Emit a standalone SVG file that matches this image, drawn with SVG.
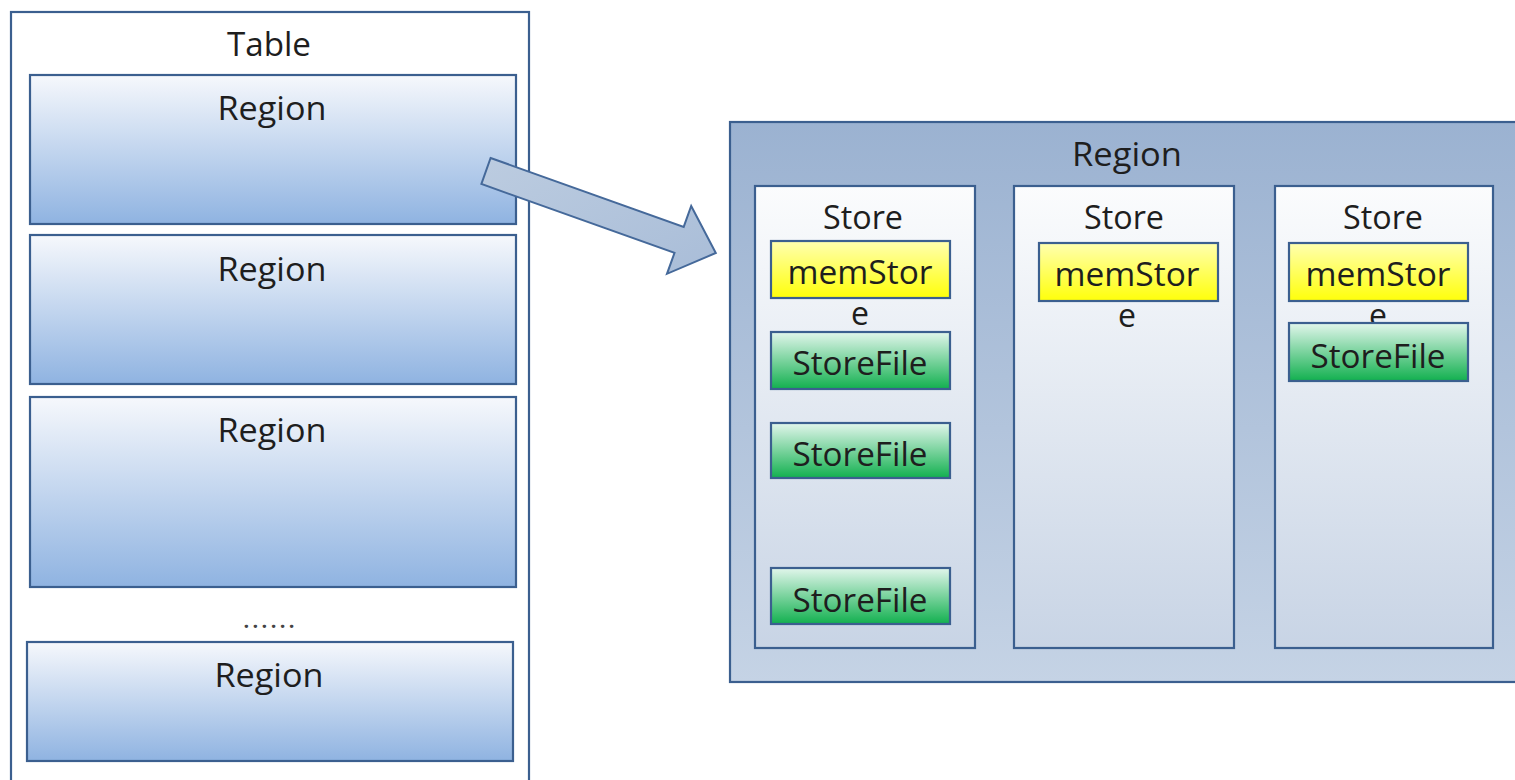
<svg xmlns="http://www.w3.org/2000/svg" width="1515" height="780" viewBox="0 0 1515 780">
  <defs>
    <linearGradient id="gRegionL" x1="0" y1="0" x2="0" y2="1">
      <stop offset="0" stop-color="#f6f8fc"/>
      <stop offset="1" stop-color="#8fb3e1"/>
    </linearGradient>
    <linearGradient id="gRegionR" x1="0" y1="0" x2="0" y2="1">
      <stop offset="0" stop-color="#9bb2d1"/>
      <stop offset="1" stop-color="#c5d3e5"/>
    </linearGradient>
    <linearGradient id="gStore" x1="0" y1="0" x2="0" y2="1">
      <stop offset="0" stop-color="#fbfcfd"/>
      <stop offset="1" stop-color="#c8d4e5"/>
    </linearGradient>
    <linearGradient id="gMem" x1="0" y1="0" x2="0" y2="1">
      <stop offset="0" stop-color="#ffffb0"/>
      <stop offset="1" stop-color="#ffff0a"/>
    </linearGradient>
    <linearGradient id="gFile" x1="0" y1="0" x2="0" y2="1">
      <stop offset="0" stop-color="#e2f6ec"/>
      <stop offset="1" stop-color="#12b04f"/>
    </linearGradient>
    <linearGradient id="gArrow" x1="0" y1="0" x2="1" y2="1">
      <stop offset="0" stop-color="#bccce0"/>
      <stop offset="1" stop-color="#a9bdd8"/>
    </linearGradient>
  </defs>
  <style>
    .box { stroke: #3b5f8f; stroke-width: 2.2; }
    .lbl { font-family: "Open Sans", "Noto Sans", "DejaVu Sans", sans-serif; font-size: 32px; fill: #1e1e1e; text-anchor: middle; }
    .dots { font-family: "Open Sans", "Noto Sans", sans-serif; font-size: 20px; font-weight: bold; fill: #444; text-anchor: middle; }
  </style>

  <rect width="1515" height="780" fill="#ffffff"/>

  <!-- Table container (open at the bottom edge) -->
  <g id="table">
    <rect class="box" x="11" y="12" width="518" height="790" fill="#ffffff"/>
    <text class="lbl" x="269" y="56" textLength="84" lengthAdjust="spacingAndGlyphs">Table</text>
  </g>

  <!-- Regions inside the table -->
  <g id="region-1">
    <rect class="box" x="30" y="75" width="486" height="149" fill="url(#gRegionL)"/>
    <text class="lbl" x="272" y="120" textLength="109" lengthAdjust="spacingAndGlyphs">Region</text>
  </g>
  <g id="region-2">
    <rect class="box" x="30" y="235" width="486" height="149" fill="url(#gRegionL)"/>
    <text class="lbl" x="272" y="281" textLength="109" lengthAdjust="spacingAndGlyphs">Region</text>
  </g>
  <g id="region-3">
    <rect class="box" x="30" y="397" width="486" height="190" fill="url(#gRegionL)"/>
    <text class="lbl" x="272" y="442" textLength="109" lengthAdjust="spacingAndGlyphs">Region</text>
  </g>
  <g id="ellipsis">
    <text class="dots" x="269" y="628" textLength="51" lengthAdjust="spacing">......</text>
  </g>
  <g id="region-4">
    <rect class="box" x="27" y="642" width="486" height="119" fill="url(#gRegionL)"/>
    <text class="lbl" x="269" y="687" textLength="109" lengthAdjust="spacingAndGlyphs">Region</text>
  </g>

  <!-- Expanded region -->
  <g id="region-detail">
    <rect class="box" x="730" y="122" width="800" height="560" fill="url(#gRegionR)"/>
    <text class="lbl" x="1127" y="166" textLength="110" lengthAdjust="spacingAndGlyphs">Region</text>
  </g>

  <g id="store-1">
    <rect class="box" x="755" y="186" width="220" height="462" fill="url(#gStore)"/>
    <text class="lbl" x="863" y="229" textLength="80" lengthAdjust="spacingAndGlyphs">Store</text>
  </g>
  <g id="store-2">
    <rect class="box" x="1014" y="186" width="220" height="462" fill="url(#gStore)"/>
    <text class="lbl" x="1124" y="229" textLength="80" lengthAdjust="spacingAndGlyphs">Store</text>
  </g>
  <g id="store-3">
    <rect class="box" x="1275" y="186" width="218" height="462" fill="url(#gStore)"/>
    <text class="lbl" x="1383" y="229" textLength="80" lengthAdjust="spacingAndGlyphs">Store</text>
  </g>

  <!-- memStores (label wraps onto a second line) -->
  <g id="memstore-1">
    <rect class="box" x="771" y="241" width="179" height="57" fill="url(#gMem)"/>
    <text class="lbl" x="860" y="284" textLength="145" lengthAdjust="spacingAndGlyphs">memStor</text>
    <text class="lbl" x="860" y="325">e</text>
  </g>
  <g id="memstore-2">
    <rect class="box" x="1039" y="243" width="179" height="58" fill="url(#gMem)"/>
    <text class="lbl" x="1127" y="286" textLength="145" lengthAdjust="spacingAndGlyphs">memStor</text>
    <text class="lbl" x="1127" y="327">e</text>
  </g>
  <g id="memstore-3">
    <rect class="box" x="1289" y="243" width="179" height="58" fill="url(#gMem)"/>
    <text class="lbl" x="1378" y="286" textLength="145" lengthAdjust="spacingAndGlyphs">memStor</text>
    <text class="lbl" x="1378" y="327">e</text>
  </g>

  <!-- StoreFiles -->
  <g id="storefile-1a">
    <rect class="box" x="771" y="332" width="179" height="57" fill="url(#gFile)"/>
    <text class="lbl" x="860" y="375" textLength="135" lengthAdjust="spacingAndGlyphs">StoreFile</text>
  </g>
  <g id="storefile-1b">
    <rect class="box" x="771" y="423" width="179" height="55" fill="url(#gFile)"/>
    <text class="lbl" x="860" y="466" textLength="135" lengthAdjust="spacingAndGlyphs">StoreFile</text>
  </g>
  <g id="storefile-1c">
    <rect class="box" x="771" y="568" width="179" height="56" fill="url(#gFile)"/>
    <text class="lbl" x="860" y="612" textLength="135" lengthAdjust="spacingAndGlyphs">StoreFile</text>
  </g>
  <g id="storefile-3a">
    <rect class="box" x="1289" y="323" width="179" height="58" fill="url(#gFile)"/>
    <text class="lbl" x="1378" y="368" textLength="135" lengthAdjust="spacingAndGlyphs">StoreFile</text>
  </g>

  <!-- Connectors -->
  <g id="connectors">
    <polygon points="490.6,158 683.7,226.9 691.2,206 715.8,253 667,273.8 674.5,252.9 481.4,184"
             fill="url(#gArrow)" stroke="#45699a" stroke-width="2" stroke-linejoin="miter"/>
  </g>
</svg>
